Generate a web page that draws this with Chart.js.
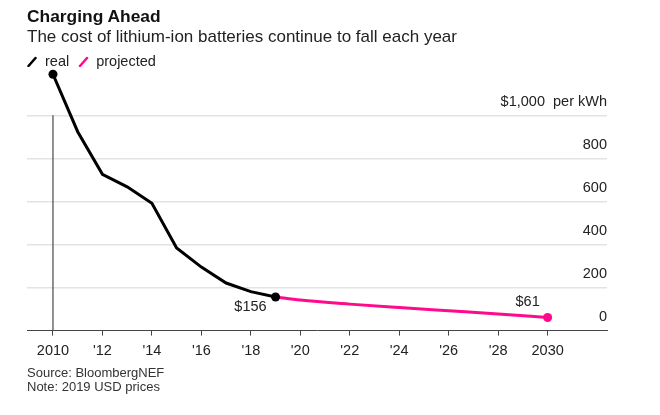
<!DOCTYPE html>
<html>
<head>
<meta charset="utf-8">
<script src="https://cdn.jsdelivr.net/npm/chart.js@4/dist/chart.umd.min.js"></script>
<style>
  html, body { margin: 0; padding: 0; background: #fff; }
  body { width: 660px; height: 415px; position: relative; overflow: hidden; font-family: "Liberation Sans", Arial, sans-serif; }
  #wrap { position: absolute; left: 0; top: 0; width: 660px; height: 415px; }
  .t { position: absolute; white-space: nowrap; }
  #title { left: 27px; top: 6px; font-size: 17.4px; font-weight: bold; color: #111; line-height: 20px; }
  #sub { left: 27px; top: 27px; font-size: 17px; color: #222; line-height: 19px; }
  #leg { left: 27px; top: 53px; font-size: 14.5px; color: #222; line-height: 16px; }
  #leg svg { vertical-align: -1px; }
  #leg .g1 { margin-right: 8px; }
  #leg .g2 { margin-left: 9px; margin-right: 7px; }
  #src { left: 27px; top: 366px; font-size: 13px; color: #333; line-height: 13.5px; }
</style>
</head>
<body>
<div id="wrap"><canvas id="c" width="660" height="415"></canvas></div>
<div class="t" id="title">Charging Ahead</div>
<div class="t" id="sub">The cost of lithium-ion batteries continue to fall each year</div>
<div class="t" id="leg"><svg class="g1" width="10" height="11"><line x1="1.5" y1="10" x2="8.5" y2="2" stroke="#000" stroke-width="2.5" stroke-linecap="round"/></svg>real<svg class="g2" width="11" height="11"><line x1="2" y1="10" x2="9" y2="2" stroke="#ff0a8c" stroke-width="2.5" stroke-linecap="round"/></svg>projected</div>
<div class="t" id="src">Source: BloombergNEF<br>Note: 2019 USD prices</div>
<script>
// ---- data ----
const realYears = [2010, 2011, 2012, 2013, 2014, 2015, 2016, 2017, 2018, 2019];
const realValues = [1191, 924, 726, 668, 592, 384, 295, 221, 181, 156];
const projYears = [2019, 2020, 2022, 2024, 2026, 2028, 2030];
const projValues = [156, 142, 123, 107, 92, 77, 61];
const refLineYears = [2010, 2010];
const refLineValues = [0, 1000];
const xTickYears = [2010, 2012, 2014, 2016, 2018, 2020, 2022, 2024, 2026, 2028, 2030];
const yTickValues = [0, 200, 400, 600, 800, 1000];
const labelledYears = [2019, 2030];

const PINK = '#ff0a8c';
const toPts = (xs, ys) => xs.map((x, i) => ({x: x, y: ys[i]}));

const labelPlugin = {
  id: 'valueLabels',
  afterDatasetsDraw(chart) {
    const ctx = chart.ctx;
    const xs = chart.scales.x, ys = chart.scales.y;
    ctx.save();
    ctx.font = '14.5px "Liberation Sans", Arial, sans-serif';
    ctx.fillStyle = '#222';
    ctx.textBaseline = 'middle';
    labelledYears.forEach((yr, k) => {
      let v;
      const ri = realYears.indexOf(yr);
      const pi = projYears.indexOf(yr);
      v = ri >= 0 && k === 0 ? realValues[ri] : projValues[pi];
      const px = xs.getPixelForValue(yr), py = ys.getPixelForValue(v);
      const txt = '$' + v;
      if (k === 0) {
        ctx.textAlign = 'right';
        ctx.fillText(txt, px - 9, py + 10);
      } else {
        ctx.textAlign = 'center';
        ctx.fillText(txt, px - 20, py - 15);
      }
    });
    ctx.restore();
  }
};

new Chart(document.getElementById('c'), {
  type: 'line',
  data: {
    datasets: [
      {
        data: toPts(refLineYears, refLineValues),
        borderColor: '#555', borderWidth: 1.3, pointRadius: 0, clip: false, order: 3
      },
      {
        data: toPts(projYears, projValues),
        borderColor: PINK, backgroundColor: PINK, borderWidth: 3,
        pointRadius: ctx => ctx.dataIndex === projYears.length - 1 ? 4.5 : 0,
        pointBorderWidth: 0,
        cubicInterpolationMode: 'monotone',
        clip: false, order: 2
      },
      {
        data: toPts(realYears, realValues),
        borderColor: '#000', backgroundColor: '#000', borderWidth: 3,
        pointRadius: ctx => (ctx.dataIndex === 0 || ctx.dataIndex === realYears.length - 1) ? 4.5 : 0,
        pointBorderWidth: 0,
        tension: 0, clip: false, order: 1
      }
    ]
  },
  options: {
    responsive: false,
    animation: false,
    events: [],
    layout: { padding: { left: 27, right: 53, top: 68, bottom: 48 } },
    plugins: { legend: { display: false }, tooltip: { enabled: false } },
    scales: {
      x: {
        type: 'linear',
        min: 2008.95, max: 2032.4,
        afterBuildTicks: s => { s.ticks = xTickYears.map(v => ({value: v})); },
        ticks: {
          color: '#222', padding: 7,
          font: { family: '"Liberation Sans", Arial, sans-serif', size: 14.5 },
          maxRotation: 0, autoSkip: false,
          callback: v => (v === 2010 || v === 2030) ? String(v) : "'" + String(v).slice(2)
        },
        grid: { display: true, drawOnChartArea: false, drawTicks: true, tickLength: 5, color: '#444', lineWidth: 1 },
        border: { display: true, color: '#444', width: 1 }
      },
      y: {
        position: 'right',
        min: 0, max: 1220,
        afterBuildTicks: s => { s.ticks = yTickValues.map(v => ({value: v})); },
        ticks: {
          mirror: true, padding: 0, labelOffset: -13.5, color: '#222',
          font: { family: '"Liberation Sans", Arial, sans-serif', size: 14.5 },
          callback: v => v === 1000 ? '$1,000  per kWh' : String(v)
        },
        grid: { drawTicks: false, color: c => c.tick && c.tick.value === 0 ? 'rgba(0,0,0,0)' : '#e3e3e3', lineWidth: 1.5 },
        border: { display: false }
      }
    }
  },
  plugins: [labelPlugin]
});
</script>
</body>
</html>
